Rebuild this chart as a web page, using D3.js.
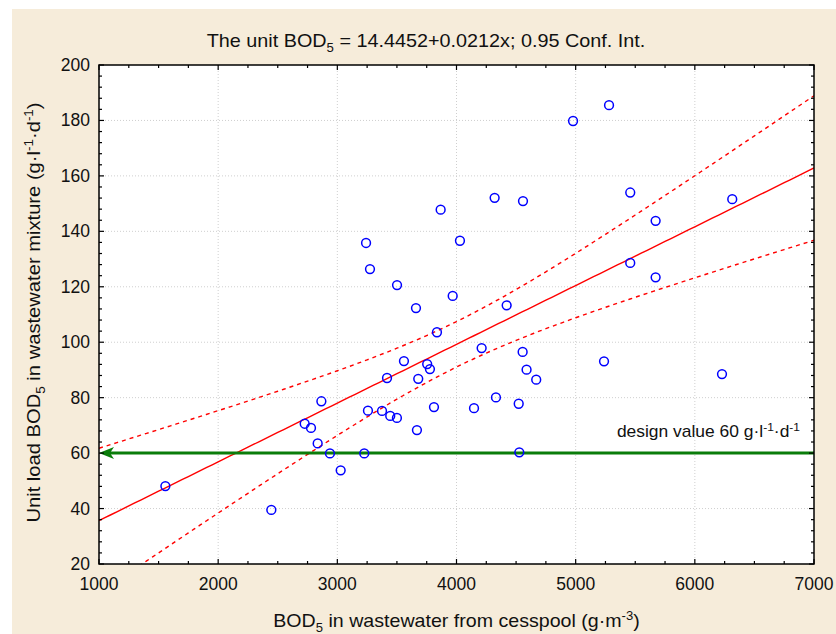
<!DOCTYPE html>
<html><head><meta charset="utf-8">
<script src="https://cdn.jsdelivr.net/npm/d3@7"></script>
<style>
html,body{margin:0;padding:0;background:#fff;}
text{font-family:Arial,"Liberation Sans",sans-serif;fill:#111;}
</style></head>
<body>
<svg id="chart" width="836" height="634"></svg>
<script>
// ---- data ----
const bodCesspool = [1557,2446,2726,2779,2835,2866,2938,3028,3226,3241,3274,3257,3375,3417,3444,3500,3501,3559,3660,3668,3679,3754,3777,3811,3836,3867,3968,4029,4147,4211,4320,4331,4421,4522,4527,4555,4558,4588,4669,4978,5238,5280,5458,5458,5671,5671,6228,6314];
const unitLoad    = [48.1,39.5,70.6,69.1,63.5,78.7,59.9,53.8,59.9,135.8,126.4,75.3,75.2,87.1,73.4,72.7,120.6,93.2,112.3,68.3,86.8,92.1,90.3,76.6,103.6,147.8,116.7,136.6,76.2,97.9,152.1,80.1,113.3,77.8,60.3,96.5,150.9,90.1,86.5,179.8,93.1,185.5,154.0,128.6,143.8,123.4,88.5,151.6];
const intercept = 14.4452, slope = 0.0212, confLevel = 0.95, tCrit = 2.013;
const designValue = 60;
const xTicks = [1000,2000,3000,4000,5000,6000,7000];
const yTicks = [20,40,60,80,100,120,140,160,180,200];

const svg = d3.select("#chart");
svg.append("rect").attr("x",12).attr("y",9).attr("width",824).attr("height",625).attr("fill","#f6ecda");

const L=99,T=65,W=715,H=499;
const x = d3.scaleLinear().domain([1000,7000]).range([L,L+W]);
const y = d3.scaleLinear().domain([20,200]).range([T+H,T]);

svg.append("rect").attr("x",L).attr("y",T).attr("width",W).attr("height",H).attr("fill","#fff");

// grid
const g = svg.append("g");
g.selectAll("line.gx").data(xTicks.slice(1,-1)).join("line")
 .attr("x1",d=>x(d)).attr("x2",d=>x(d)).attr("y1",T).attr("y2",T+H)
 .attr("stroke","#cfcfcf").attr("stroke-dasharray","1,2");
g.selectAll("line.gy").data(yTicks.slice(1,-1)).join("line")
 .attr("y1",d=>y(d)).attr("y2",d=>y(d)).attr("x1",L).attr("x2",L+W)
 .attr("stroke","#cfcfcf").attr("stroke-dasharray","1,2");

svg.append("defs").append("clipPath").attr("id","clip").append("rect")
 .attr("x",L).attr("y",T).attr("width",W).attr("height",H);

// regression + confidence band computed from data
const n = bodCesspool.length;
const xm = d3.mean(bodCesspool);
const sxx = d3.sum(bodCesspool, v => (v-xm)*(v-xm));
const sse = d3.sum(bodCesspool, (v,i) => Math.pow(unitLoad[i] - (intercept + slope*v), 2));
const s = Math.sqrt(sse/(n-2));
const xs = d3.range(1000, 7001, 50);
const fit = v => intercept + slope*v;
const half = v => tCrit * s * Math.sqrt(1/n + (v-xm)*(v-xm)/sxx);
const line = d3.line().x(d=>x(d[0])).y(d=>y(d[1]));
const cg = svg.append("g").attr("clip-path","url(#clip)");
cg.append("path").attr("d", line(xs.map(v=>[v,fit(v)]))).attr("fill","none").attr("stroke","#ff0000").attr("stroke-width",1.4);
cg.append("path").attr("d", line(xs.map(v=>[v,fit(v)+half(v)]))).attr("fill","none").attr("stroke","#ff0000").attr("stroke-width",1.4).attr("stroke-dasharray","4,4");
cg.append("path").attr("d", line(xs.map(v=>[v,fit(v)-half(v)]))).attr("fill","none").attr("stroke","#ff0000").attr("stroke-width",1.4).attr("stroke-dasharray","4,4");

// design line with arrow
const gy = y(designValue);
svg.append("line").attr("x1",x(7000)).attr("x2",x(1000)+6).attr("y1",gy).attr("y2",gy).attr("stroke","#0a7d0a").attr("stroke-width",3);
svg.append("path").attr("d",`M${x(1000)},${gy} L${x(1000)+15},${gy-6} L${x(1000)+11},${gy} L${x(1000)+15},${gy+6} Z`).attr("fill","#0a7d0a");

// helper: text horizontally stretched like the reference rendering
function stretched(px, py, sx, rot, anchor, size){
  const gg = svg.append("g").attr("transform",`translate(${px},${py}) rotate(${rot}) scale(${sx},1)`);
  return gg.append("text").attr("text-anchor",anchor).attr("font-size",size);
}

const dl = stretched(800, gy-16, 1.09, 0, "end", 16);
dl.append("tspan").text("design value "+designValue+" g·l");
dl.append("tspan").attr("dy",-6).attr("font-size",11).text("-1");
dl.append("tspan").attr("dy",6).text("·d");
dl.append("tspan").attr("dy",-6).attr("font-size",11).text("-1");

// points
svg.append("g").selectAll("circle").data(bodCesspool.map((v,i)=>[v,unitLoad[i]])).join("circle")
 .attr("cx",d=>x(d[0])).attr("cy",d=>y(d[1])).attr("r",4.4)
 .attr("fill","none").attr("stroke","#0000ff").attr("stroke-width",1.5);

// frame + ticks
const fr = svg.append("g").attr("stroke","#000");
fr.append("rect").attr("x",L).attr("y",T).attr("width",W).attr("height",H).attr("fill","none").attr("stroke-width",1.5);
const xMinor = d3.range(1000,7001,250), yMinor = d3.range(20,201,4);
xMinor.forEach(v=>{
  const len = v%1000===0?5:3;
  fr.append("line").attr("x1",x(v)).attr("x2",x(v)).attr("y1",T+H).attr("y2",T+H-len).attr("stroke-width",1.2);
  fr.append("line").attr("x1",x(v)).attr("x2",x(v)).attr("y1",T).attr("y2",T+len).attr("stroke-width",1.2);
});
yMinor.forEach(v=>{
  const len = v%20===0?5:3;
  fr.append("line").attr("y1",y(v)).attr("y2",y(v)).attr("x1",L).attr("x2",L+len).attr("stroke-width",1.2);
  fr.append("line").attr("y1",y(v)).attr("y2",y(v)).attr("x1",L+W).attr("x2",L+W-len).attr("stroke-width",1.2);
});

// tick labels
svg.append("g").selectAll("text").data(xTicks).join("text")
 .attr("x",d=>x(d)).attr("y",T+H+26).attr("text-anchor","middle").attr("font-size",17.5).text(d=>d);
svg.append("g").selectAll("text").data(yTicks).join("text")
 .attr("x",L-9).attr("y",d=>y(d)+6).attr("text-anchor","end").attr("font-size",17.5).text(d=>d);

// title
const tt = stretched(426, 47, 1.1, 0, "middle", 18);
tt.append("tspan").text("The unit BOD");
tt.append("tspan").attr("dy",5).attr("font-size",12).text("5");
tt.append("tspan").attr("dy",-5).text(` = ${intercept}+${slope}x; ${confLevel} Conf. Int.`);

// x label
const xl = stretched(L+W/2, 627, 1.09, 0, "middle", 18);
xl.append("tspan").text("BOD");
xl.append("tspan").attr("dy",5).attr("font-size",12).text("5");
xl.append("tspan").attr("dy",-5).text(" in wastewater from cesspool (g·m");
xl.append("tspan").attr("dy",-7).attr("font-size",12).text("-3");
xl.append("tspan").attr("dy",7).text(")");

// y label
const yl = stretched(40, T+H/2-2, 1.12, -90, "middle", 18);
yl.append("tspan").text("Unit load BOD");
yl.append("tspan").attr("dy",5).attr("font-size",12).text("5");
yl.append("tspan").attr("dy",-5).text(" in wastewater mixture (g·l");
yl.append("tspan").attr("dy",-7).attr("font-size",12).text("-1");
yl.append("tspan").attr("dy",7).text("·d");
yl.append("tspan").attr("dy",-7).attr("font-size",12).text("-1");
yl.append("tspan").attr("dy",7).text(")");
</script>
</body></html>
